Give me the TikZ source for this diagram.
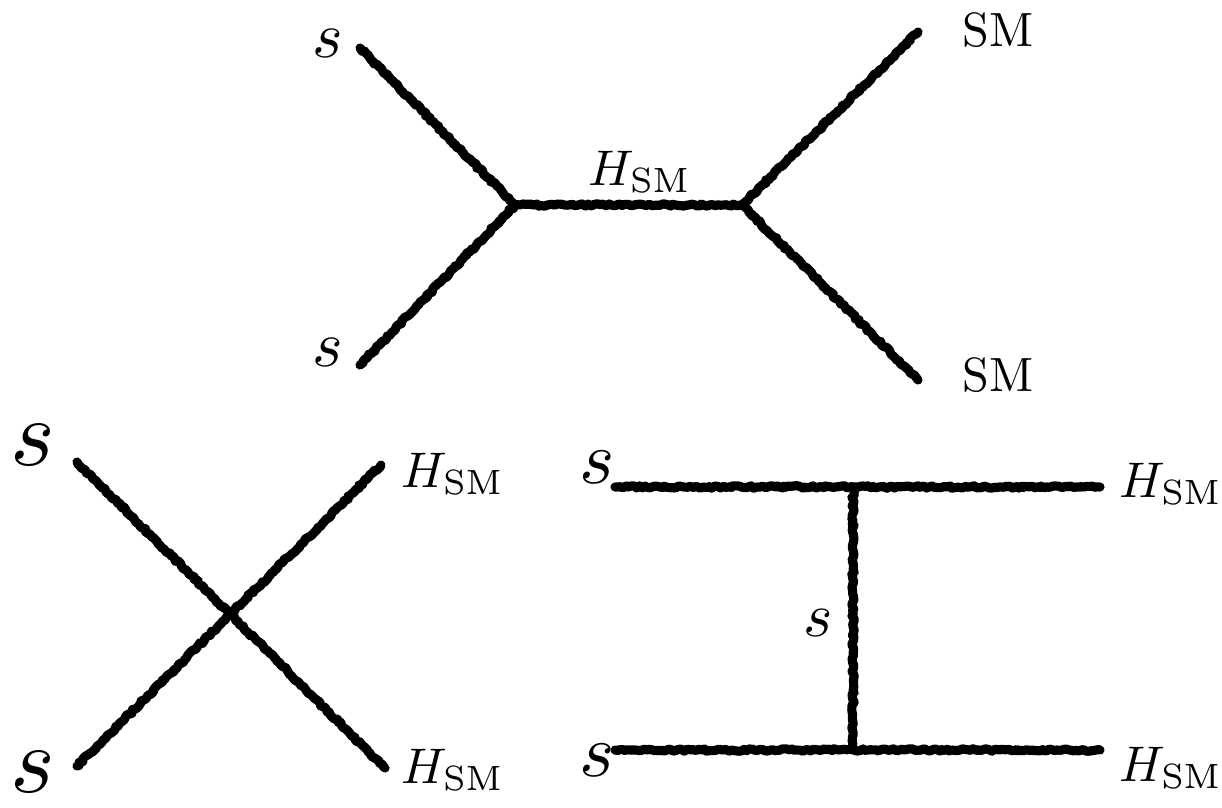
\documentclass[tikz,border=0pt]{standalone}
\usetikzlibrary{decorations.pathmorphing}

\begin{document}
\begin{tikzpicture}[x=0.02cm,y=-0.02cm,line cap=round,line join=round,
  leg/.style={line width=5.2pt,decorate,decoration={random steps,segment length=1.5pt,amplitude=0.7pt}},
  lbl/.style={inner sep=0pt,font=\normalsize,scale=2.85}]
\useasboundingbox (0,0) rectangle (1222,807);
% s-channel
\coordinate (s1) at (360,48);
\coordinate (s2) at (360,365);
\coordinate (v1) at (515,205);
\coordinate (v2) at (742,205);
\coordinate (f1) at (918,32);
\coordinate (f2) at (918,380);
\draw[leg] (s1) -- (v1);
\draw[leg] (s2) -- (v1);
\draw[leg] (v1) -- (v2);
\draw[leg] (v2) -- (f1);
\draw[leg] (v2) -- (f2);
\node[lbl,scale=1.3] (ls1) at (328,43) {$s$};
\node[lbl,scale=1.3] (ls2) at (328,352) {$s$};
\node[lbl] (lh) at (640,172) {$H_{\mathrm{SM}}$};
\node[lbl,scale=0.96] (lf1) at (998,30) {SM};
\node[lbl,scale=0.96] (lf2) at (998,375) {SM};
% contact
\coordinate (c1) at (77,462);
\coordinate (c2) at (77,766);
\coordinate (c3) at (381,465);
\coordinate (c4) at (385,768);
\draw[leg] (c1) -- (c4);
\draw[leg] (c2) -- (c3);
\node[lbl,scale=1.9] (lc1) at (33,445) {$s$};
\node[lbl,scale=1.9] (lc2) at (33,772) {$s$};
\node[lbl] (lc3) at (453,474) {$H_{\mathrm{SM}}$};
\node[lbl] (lc4) at (453,770) {$H_{\mathrm{SM}}$};
% t-channel
\coordinate (t1) at (615,487);
\coordinate (t2) at (615,750);
\coordinate (ta) at (853,487);
\coordinate (tb) at (853,750);
\coordinate (t3) at (1100,487);
\coordinate (t4) at (1100,750);
\draw[leg] (t1) -- (t3);
\draw[leg] (t2) -- (t4);
\draw[leg] (ta) -- (tb);
\node[lbl,scale=1.5] (lt1) at (597,467) {$s$};
\node[lbl,scale=1.5] (lt2) at (597,760) {$s$};
\node[lbl,scale=1.25] (lt3) at (818,623) {$s$};
\node[lbl] (lt4) at (1171,484) {$H_{\mathrm{SM}}$};
\node[lbl] (lt5) at (1171,768) {$H_{\mathrm{SM}}$};
\end{tikzpicture}
\end{document}
